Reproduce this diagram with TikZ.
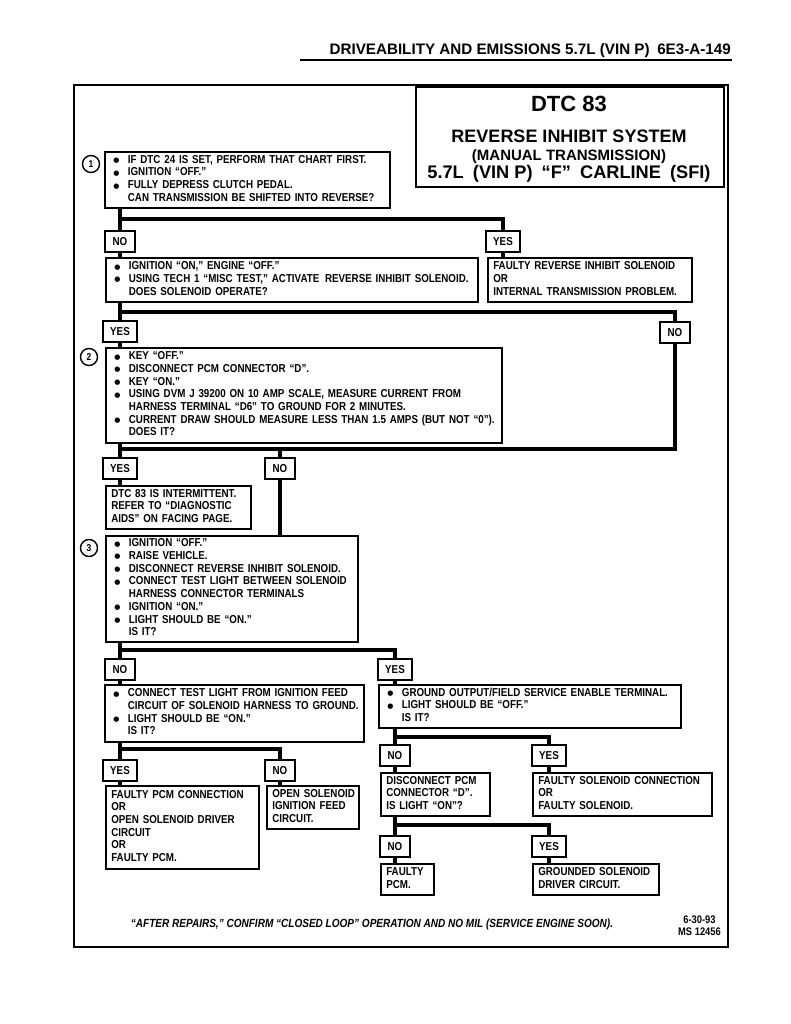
\documentclass[tikz,border=0pt]{standalone}
\usepackage{fontspec}
\newfontfamily\cond{Liberation Sans}[FakeStretch=0.85]
\newfontfamily\widef{Liberation Sans}
\newfontfamily\dejavu{DejaVu Sans}
\newcommand\body{\cond\bfseries\fontsize{11.5}{12.7}\selectfont}
\newcommand\bu{\raisebox{0.6pt}{\dejavu\fontsize{7}{8}\selectfont ●}}
\newenvironment{bulletlist}{\noindent\begin{tabular}{@{\hspace{8.5pt}}l@{\hspace{8.5pt}}l@{}}}{\end{tabular}}
\newenvironment{plainlist}{\noindent\begin{tabular}{@{\hspace{5.5pt}}l@{}}}{\end{tabular}}
\tikzset{
  box/.style={draw, line width=1.6pt, anchor=north west, inner xsep=0pt, inner ysep=0pt, align=left, font=\body},
  lab/.style={draw, line width=1.6pt, anchor=north, minimum height=21pt, inner xsep=7.5pt, inner ysep=0pt, font=\body},
  trunk/.style={line width=4.6pt},
  num/.style={circle, draw, line width=1.4pt, minimum size=17pt, inner sep=0pt, font=\cond\bfseries\fontsize{10}{12}\selectfont}
}
\begin{document}
\begin{tikzpicture}[x=1pt,y=-1pt]
\useasboundingbox[fill=white] (0,0) rectangle (791,1024);
% header
\node[anchor=base east, inner sep=0pt, font=\widef\bfseries\fontsize{15.2}{18}\selectfont] (hdr) at (731,55) {DRIVEABILITY AND EMISSIONS 5.7L (VIN P)\enspace 6E3-A-149};
\draw[line width=2pt] (300,60) -- (732,60);
% frame
\node[draw, line width=2.2pt, anchor=north west, minimum width=654pt, minimum height=862pt, inner sep=0pt] (frame) at (73,84) {};
% title box
\node[draw, line width=2pt, anchor=north west, minimum width=308pt, minimum height=100pt, inner sep=0pt] (title) at (415,86) {};
\node[anchor=base, inner sep=0pt, font=\widef\bfseries\fontsize{22}{24}\selectfont] (t1) at (569,112) {DTC 83};
\node[anchor=base, inner sep=0pt, font=\widef\bfseries\fontsize{18}{20}\selectfont] (t2) at (569,143) {REVERSE INHIBIT SYSTEM};
\node[anchor=base, inner sep=0pt, font=\widef\bfseries\fontsize{15}{17}\selectfont] (t3) at (569,161) {(MANUAL TRANSMISSION)};
\node[anchor=base, inner sep=0pt, font=\widef\bfseries\fontsize{18.2}{20}\selectfont] (t4) at (569,179) {5.7L\enspace(VIN P)\enspace“F”\enspace CARLINE\enspace(SFI)};

% step 1
\node[num] (c1) at (91,164) {1};
\node[box, text width=285pt, minimum height=56pt] (s1) at (104,151) {\begin{bulletlist}
\bu & IF DTC 24 IS SET, PERFORM THAT CHART FIRST.\\
\bu & IGNITION “OFF.”\\
\bu & FULLY DEPRESS CLUTCH PEDAL.\\
 & CAN TRANSMISSION BE SHIFTED INTO REVERSE?
\end{bulletlist}};
\coordinate (j1) at (0,219);
\node[lab] (no1) at (120,230) {NO};
\node[lab] (yes1) at (503,230) {YES};
\node[box, text width=372pt, minimum height=44pt] (b) at (105,257) {\begin{bulletlist}
\bu & IGNITION “ON,” ENGINE “OFF.”\\
\bu & USING TECH 1 “MISC TEST,” ACTIVATE\, REVERSE INHIBIT SOLENOID.\\
 & DOES SOLENOID OPERATE?
\end{bulletlist}};
\node[box, text width=204pt, minimum height=44pt] (fr) at (487,257) {\begin{plainlist}
FAULTY REVERSE INHIBIT SOLENOID\\
OR\\
INTERNAL TRANSMISSION PROBLEM.
\end{plainlist}};
\draw[trunk] (s1.south -| no1.north) -- (no1.north);
\draw[trunk] (no1.north |- j1) -| (yes1.north);
\draw[trunk] (no1.south) -- (no1.south |- b.north);
\draw[trunk] (yes1.south) -- (yes1.south |- fr.north);

% step 2
\coordinate (j2) at (0,312);
\node[lab] (yes2) at (120,320) {YES};
\node[lab] (noR) at (675,321) {NO};
\draw[trunk] (b.south -| yes2.north) -- (yes2.north);
\draw[trunk] (yes2.north |- j2) -| (noR.north);
\node[num] (c2) at (89,357) {2};
\node[box, text width=396pt, minimum height=95pt] (s2) at (105,347) {\begin{bulletlist}
\bu & KEY “OFF.”\\
\bu & DISCONNECT PCM CONNECTOR “D”.\\
\bu & KEY “ON.”\\
\bu & USING DVM J 39200 ON 10 AMP SCALE, MEASURE CURRENT FROM\\
 & HARNESS TERMINAL “D6” TO GROUND FOR 2 MINUTES.\\
\bu & CURRENT DRAW SHOULD MEASURE LESS THAN 1.5 AMPS (BUT NOT “0”).\\
 & DOES IT?
\end{bulletlist}};
\draw[trunk] (yes2.south) -- (yes2.south |- s2.north);
\coordinate (j3) at (0,449);
\node[lab] (yes3) at (120,457) {YES};
\node[lab] (no3) at (280,457) {NO};
\draw[trunk] (noR.south) |- (yes3.north |- j3);
\draw[trunk] (s2.south -| yes3.north) -- (yes3.north);
\draw[trunk] (no3.north |- j3) -- (no3.north);
\node[box, text width=145pt, minimum height=43pt] (dtc) at (105,485) {\begin{plainlist}
DTC 83 IS INTERMITTENT.\\
REFER TO “DIAGNOSTIC\\
AIDS” ON FACING PAGE.
\end{plainlist}};
\draw[trunk] (yes3.south) -- (yes3.south |- dtc.north);

% step 3
\node[num] (c3) at (89,548) {3};
\node[box, text width=252pt, minimum height=106pt] (s3) at (105,535) {\begin{bulletlist}
\bu & IGNITION “OFF.”\\
\bu & RAISE VEHICLE.\\
\bu & DISCONNECT REVERSE INHIBIT SOLENOID.\\
\bu & CONNECT TEST LIGHT BETWEEN SOLENOID\\
 & HARNESS CONNECTOR TERMINALS\\
\bu & IGNITION “ON.”\\
\bu & LIGHT SHOULD BE “ON.”\\
 & IS IT?
\end{bulletlist}};
\draw[trunk] (no3.south) -- (no3.south |- s3.north);
\coordinate (j4) at (0,650);
\node[lab] (no4) at (120,658) {NO};
\node[lab] (yes4) at (395,658) {YES};
\draw[trunk] (s3.south -| no4.north) -- (no4.north);
\draw[trunk] (no4.north |- j4) -| (yes4.north);
\node[box, text width=259pt, minimum height=57pt] (l5) at (104,684) {\begin{bulletlist}
\bu & CONNECT TEST LIGHT FROM IGNITION FEED\\
 & CIRCUIT OF SOLENOID HARNESS TO GROUND.\\
\bu & LIGHT SHOULD BE “ON.”\\
 & IS IT?
\end{bulletlist}};
\node[box, text width=302pt, minimum height=43pt] (r5) at (378,684) {\begin{bulletlist}
\bu & GROUND OUTPUT/FIELD SERVICE ENABLE TERMINAL.\\
\bu & LIGHT SHOULD BE “OFF.”\\
 & IS IT?
\end{bulletlist}};
\draw[trunk] (no4.south) -- (no4.south |- l5.north);
\draw[trunk] (yes4.south) -- (yes4.south |- r5.north);

% left branch
\coordinate (j5) at (0,749);
\node[lab] (yes5) at (120,759) {YES};
\node[lab] (no5) at (280,759) {NO};
\draw[trunk] (l5.south -| yes5.north) -- (yes5.north);
\draw[trunk] (yes5.north |- j5) -| (no5.north);
\node[box, text width=153pt, minimum height=83pt] (fpc) at (105,785) {\begin{plainlist}
FAULTY PCM CONNECTION\\
OR\\
OPEN SOLENOID DRIVER\\
CIRCUIT\\
OR\\
FAULTY PCM.
\end{plainlist}};
\node[box, text width=92pt, minimum height=43pt] (osi) at (266,785) {\begin{plainlist}
OPEN SOLENOID\\
IGNITION FEED\\
CIRCUIT.
\end{plainlist}};
\draw[trunk] (yes5.south) -- (yes5.south |- fpc.north);
\draw[trunk] (no5.south) -- (no5.south |- osi.north);

% right branch
\coordinate (j6) at (0,737);
\node[lab] (no6) at (395,744) {NO};
\node[lab] (yes6) at (549,744) {YES};
\draw[trunk] (r5.south -| no6.north) -- (no6.north);
\draw[trunk] (no6.north |- j6) -| (yes6.north);
\node[box, text width=109pt, minimum height=43pt] (dpc) at (380,772) {\begin{plainlist}
DISCONNECT PCM\\
CONNECTOR “D”.\\
IS LIGHT “ON”?
\end{plainlist}};
\node[box, text width=179pt, minimum height=43pt] (fsc) at (532,772) {\begin{plainlist}
FAULTY SOLENOID CONNECTION\\
OR\\
FAULTY SOLENOID.
\end{plainlist}};
\draw[trunk] (no6.south) -- (no6.south |- dpc.north);
\draw[trunk] (yes6.south) -- (yes6.south |- fsc.north);
\coordinate (j7) at (0,825);
\node[lab] (no7) at (395,835) {NO};
\node[lab] (yes7) at (549,835) {YES};
\draw[trunk] (dpc.south -| no7.north) -- (no7.north);
\draw[trunk] (no7.north |- j7) -| (yes7.north);
\node[box, text width=53pt, minimum height=31pt] (fpcm) at (380,863) {\begin{plainlist}
FAULTY\\
PCM.
\end{plainlist}};
\node[box, text width=126pt, minimum height=31pt] (gsd) at (532,863) {\begin{plainlist}
GROUNDED SOLENOID\\
DRIVER CIRCUIT.
\end{plainlist}};
\draw[trunk] (no7.south) -- (no7.south |- fpcm.north);
\draw[trunk] (yes7.south) -- (yes7.south |- gsd.north);

% footer
\node[anchor=base, inner sep=0pt, font=\cond\bfseries\itshape\fontsize{11.8}{13}\selectfont] (foot) at (372,927) {“AFTER REPAIRS,” CONFIRM “CLOSED LOOP” OPERATION AND NO MIL (SERVICE ENGINE SOON).};
\node[anchor=north east, inner sep=0pt, align=center, font=\cond\bfseries\fontsize{11}{12}\selectfont] (ms) at (721,916) {6-30-93\\MS 12456};
\end{tikzpicture}
\end{document}
